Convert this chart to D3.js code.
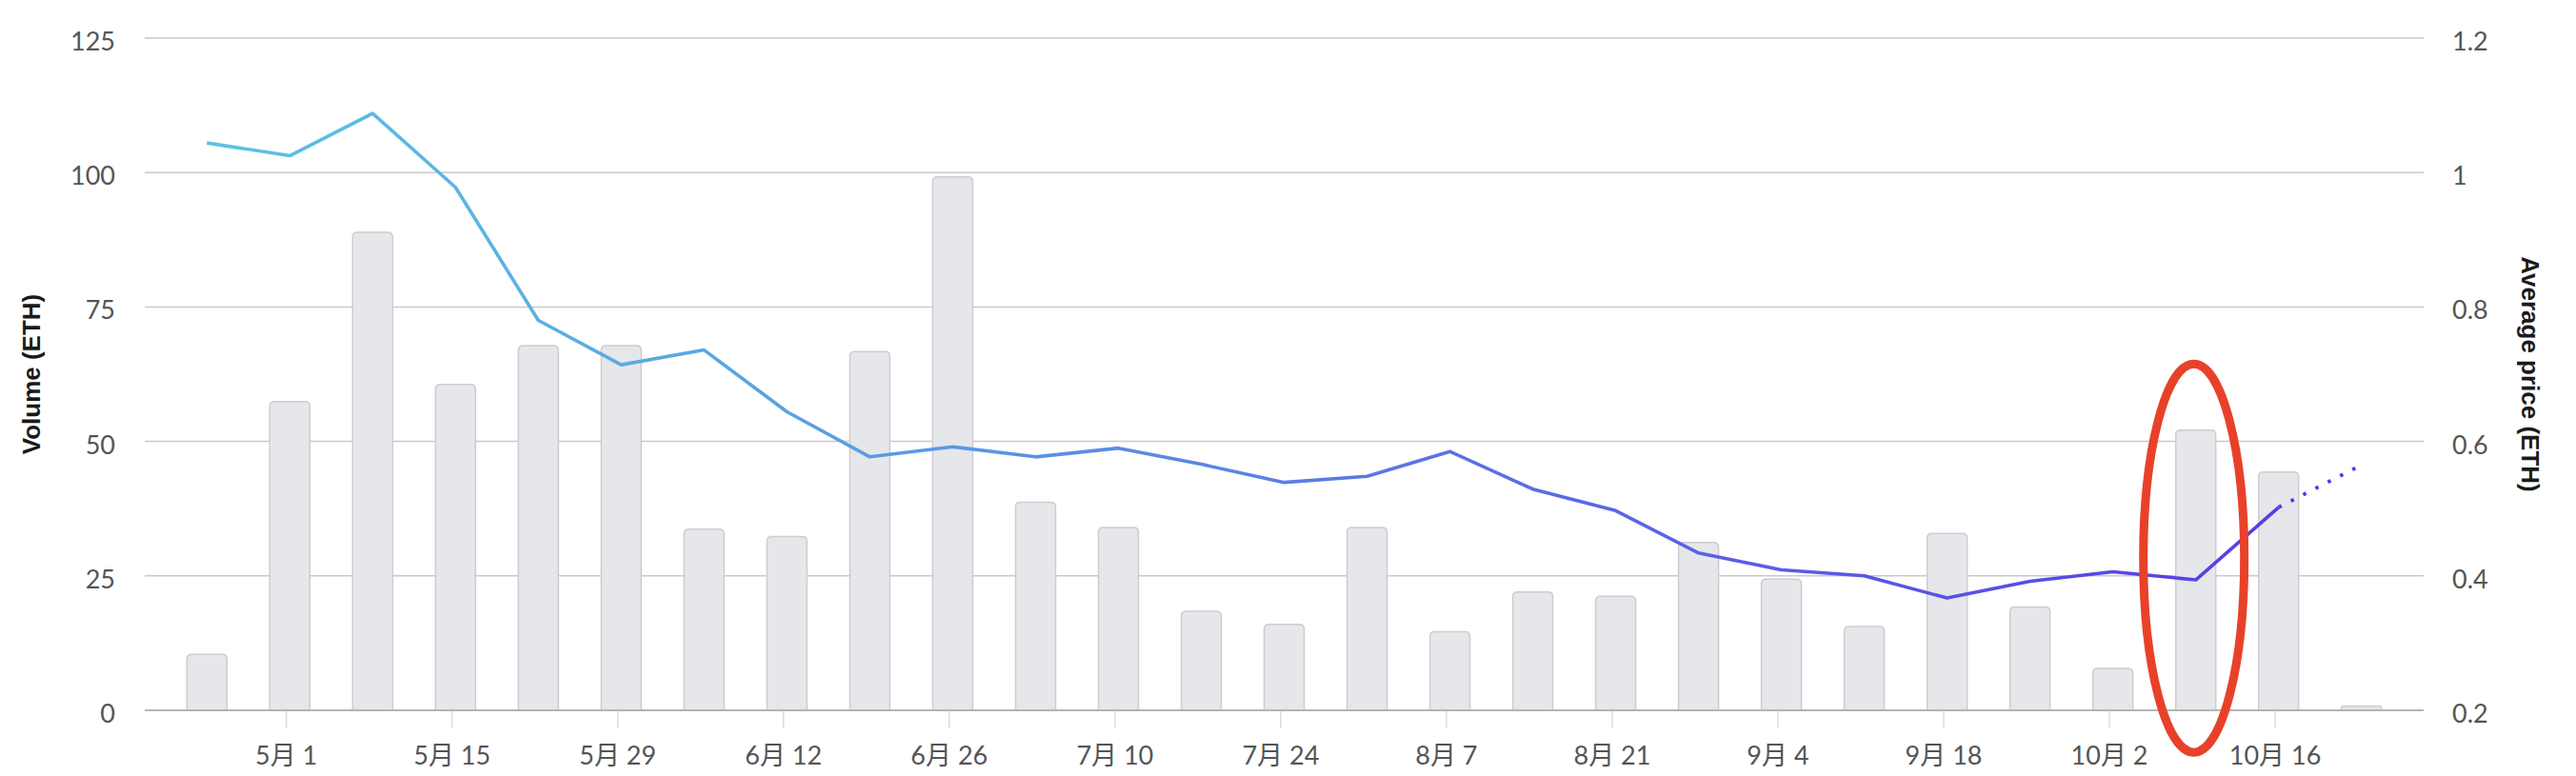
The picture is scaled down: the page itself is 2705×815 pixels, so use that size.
<!DOCTYPE html>
<html>

<head>
  <meta charset="utf-8">
  <style>
    body {
      margin: 0;
      padding: 0;
      background: white;
    }

    .grid line {
      stroke: #c9c9c9;
      stroke-width: 1.5;
    }

    .tick-label {
      font-family: Lato, "Noto Sans CJK SC", sans-serif;
      font-size: 27px;
      fill: #555;
    }

    .axis-title {
      font-family: "Liberation Sans", Arial, sans-serif;
      font-weight: bold;
      font-size: 26px;
      fill: #1a1a1a;
    }

    .bar {
      fill: #e6e7ea;
      stroke: #cdcdd0;
      stroke-width: 1.5;
    }
  </style>
</head>

<body>
  <div id="chart"></div>

  <script src="https://d3js.org/d3.v7.min.js"></script>
  <script>
    // weekly buckets (UTC, shifted a few hours like the original)
    var weeks = ["2023-04-24", "2023-05-01", "2023-05-08", "2023-05-15", "2023-05-22", "2023-05-29",
      "2023-06-05", "2023-06-12", "2023-06-19", "2023-06-26", "2023-07-03", "2023-07-10",
      "2023-07-17", "2023-07-24", "2023-07-31", "2023-08-07", "2023-08-14", "2023-08-21",
      "2023-08-28", "2023-09-04", "2023-09-11", "2023-09-18", "2023-09-25", "2023-10-02",
      "2023-10-09", "2023-10-16", "2023-10-23"]

    // volume per week (ETH)
    var volume = [10.4, 57.4, 88.9, 60.6, 67.8, 67.8, 33.7, 32.3, 66.7, 99.2, 38.7, 34.0,
      18.4, 16.0, 34.0, 14.6, 22.0, 21.2, 31.2, 24.4, 15.6, 32.9, 19.2, 7.8, 52.1, 44.3, 0.8]

    // average price per week (ETH)
    var avgPrice = [1.044, 1.025, 1.088, 0.978, 0.780, 0.714, 0.736, 0.644, 0.577, 0.592, 0.577, 0.590,
      0.566, 0.539, 0.548, 0.585, 0.529, 0.497, 0.434, 0.409, 0.400, 0.367, 0.392, 0.406,
      0.394, 0.502, 0.565]

    var xTicks = ["2023-05-01", "2023-05-15", "2023-05-29", "2023-06-12", "2023-06-26", "2023-07-10",
      "2023-07-24", "2023-08-07", "2023-08-21", "2023-09-04", "2023-09-18", "2023-10-02", "2023-10-16"]

    var volTicks = [0, 25, 50, 75, 100, 125]
    var priceTicks = [0.2, 0.4, 0.6, 0.8, 1, 1.2]

    // week that gets circled in red
    var highlightWeek = "2023-10-09"

    var width = 2705,
      height = 815
    var plotLeft = 152,
      plotRight = 2545,
      plotTop = 40,
      plotBottom = 746

    var data = weeks.map(function(w, i) {
      return {
        date: new Date(w + "T07:00:00Z"),
        volume: volume[i],
        price: avgPrice[i]
      }
    })

    var x = d3.scaleUtc()
      .domain([new Date("2023-04-19T01:00:00Z"), new Date("2023-10-28T13:00:00Z")])
      .range([plotLeft, plotRight])

    var yVol = d3.scaleLinear().domain([0, 125]).range([plotBottom, plotTop])
    var yPrice = d3.scaleLinear().domain([0.2, 1.2]).range([plotBottom, plotTop])

    var svg = d3.select("#chart")
      .append("svg")
      .attr("width", width)
      .attr("height", height)

    // gradient for the price line
    var grad = svg.append("defs").append("linearGradient")
      .attr("id", "priceGrad")
      .attr("gradientUnits", "userSpaceOnUse")
      .attr("x1", x(data[0].date)).attr("x2", x(data[data.length - 1].date))
      .attr("y1", 0).attr("y2", 0)
    grad.append("stop").attr("offset", "0%").attr("stop-color", "#5cc3e2")
    grad.append("stop").attr("offset", "35%").attr("stop-color", "#5a97e3")
    grad.append("stop").attr("offset", "60%").attr("stop-color", "#5b6ee6")
    grad.append("stop").attr("offset", "100%").attr("stop-color", "#5638e8")

    // horizontal grid
    svg.append("g")
      .attr("class", "grid")
      .selectAll("line")
      .data(volTicks.filter(function(d) { return d > 0 }))
      .enter().append("line")
      .attr("x1", plotLeft).attr("x2", plotRight)
      .attr("y1", function(d) { return yVol(d) })
      .attr("y2", function(d) { return yVol(d) })

    // x tick marks
    svg.append("g")
      .selectAll("line")
      .data(xTicks)
      .enter().append("line")
      .attr("x1", function(d) { return x(new Date(d)) })
      .attr("x2", function(d) { return x(new Date(d)) })
      .attr("y1", plotBottom).attr("y2", plotBottom + 19)
      .attr("stroke", "#dcdcdc")
      .attr("stroke-width", 1.5)

    // bars, only the top corners are rounded
    var barW = 42,
      r = 5

    function barPath(d) {
      var cx = x(d.date),
        x0 = cx - barW / 2,
        x1 = cx + barW / 2,
        y0 = yVol(d.volume),
        rr = Math.min(r, (plotBottom - y0) / 2)
      return "M" + x0 + "," + plotBottom +
        "V" + (y0 + rr) +
        "Q" + x0 + "," + y0 + " " + (x0 + rr) + "," + y0 +
        "H" + (x1 - rr) +
        "Q" + x1 + "," + y0 + " " + x1 + "," + (y0 + rr) +
        "V" + plotBottom
    }

    svg.append("g")
      .selectAll("path")
      .data(data)
      .enter().append("path")
      .attr("class", "bar")
      .attr("d", barPath)

    // baseline
    svg.append("line")
      .attr("x1", plotLeft).attr("x2", plotRight)
      .attr("y1", plotBottom).attr("y2", plotBottom)
      .attr("stroke", "#b4b4b4")
      .attr("stroke-width", 2)

    // price line: solid up to the last full week, dotted for the current one
    var line = d3.line()
      .x(function(d) { return x(d.date) })
      .y(function(d) { return yPrice(d.price) })

    var n = data.length
    svg.append("path")
      .datum(data.slice(0, n - 1))
      .attr("d", line)
      .attr("fill", "none")
      .attr("stroke", "url(#priceGrad)")
      .attr("stroke-width", 3.6)
      .attr("stroke-linejoin", "round")

    svg.append("path")
      .datum(data.slice(n - 2))
      .attr("d", line)
      .attr("fill", "none")
      .attr("stroke", "#5638e8")
      .attr("stroke-width", 3.8)
      .attr("stroke-dasharray", "3.5,11")

    // y labels left
    svg.append("g")
      .selectAll("text")
      .data(volTicks)
      .enter().append("text")
      .attr("class", "tick-label")
      .attr("x", 121)
      .attr("y", function(d) { return yVol(d) })
      .attr("dy", "0.48em")
      .attr("text-anchor", "end")
      .text(function(d) { return d })

    // y labels right
    svg.append("g")
      .selectAll("text")
      .data(priceTicks)
      .enter().append("text")
      .attr("class", "tick-label")
      .attr("x", 2575)
      .attr("y", function(d) { return yPrice(d) })
      .attr("dy", "0.48em")
      .text(function(d) { return d3.format("~g")(d) })

    // x labels
    var fmt = d3.utcFormat("%-m月 %-d")
    svg.append("g")
      .selectAll("text")
      .data(xTicks)
      .enter().append("text")
      .attr("class", "tick-label")
      .attr("x", function(d) { return x(new Date(d)) })
      .attr("y", 803)
      .attr("text-anchor", "middle")
      .text(function(d) { return fmt(new Date(d)) })

    // axis titles
    var midY = (plotTop + plotBottom) / 2
    svg.append("text")
      .attr("class", "axis-title")
      .attr("transform", "translate(42," + midY + ") rotate(-90)")
      .attr("text-anchor", "middle")
      .text("Volume (ETH)")

    svg.append("text")
      .attr("class", "axis-title")
      .attr("transform", "translate(2648," + midY + ") rotate(90)")
      .attr("text-anchor", "middle")
      .text("Average price (ETH)")

    // red hand-drawn style ellipse around the highlighted week
    svg.append("ellipse")
      .attr("cx", x(new Date(highlightWeek + "T07:00:00Z")) - 2)
      .attr("cy", yVol(28.3))
      .attr("rx", 53)
      .attr("ry", 204)
      .attr("fill", "none")
      .attr("stroke", "#e8412a")
      .attr("stroke-width", 9)
  </script>
</body>

</html>
